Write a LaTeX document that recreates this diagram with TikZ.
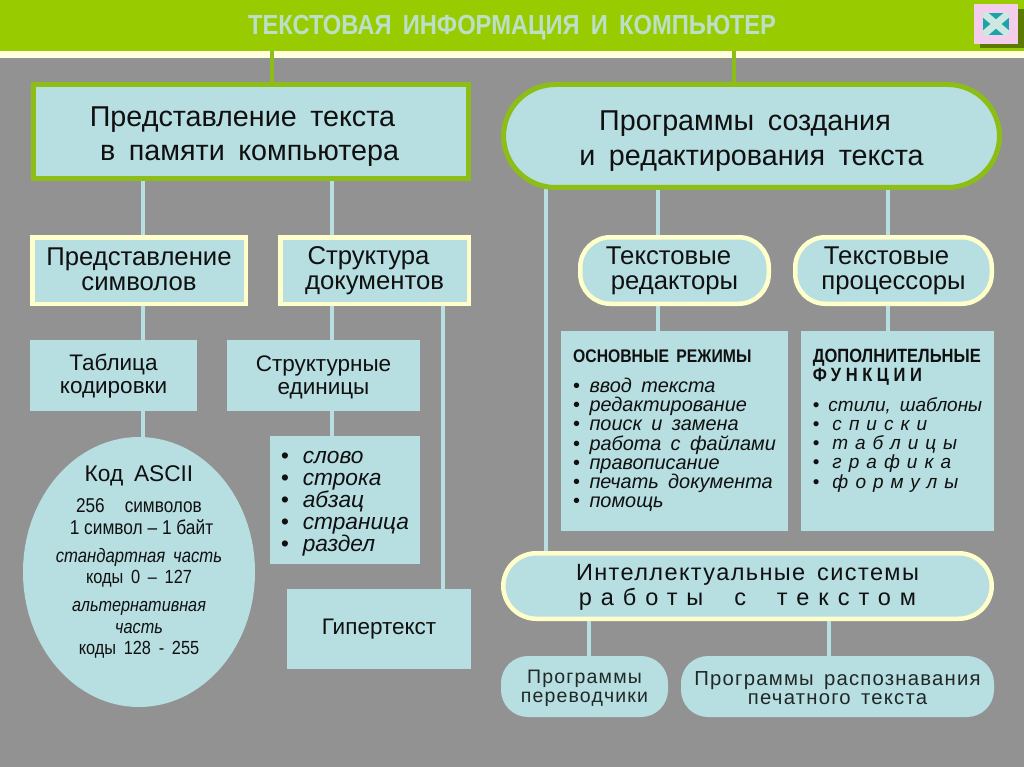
\documentclass[tikz,border=0pt]{standalone}
\usepackage{fontspec}
\setmainfont[WordSpace=1.7]{Liberation Sans}
\newfontfamily\narrowf[FakeStretch=0.86,WordSpace=1.7]{Liberation Sans}
\newfontfamily\narrowt[FakeStretch=0.865,WordSpace=1]{Liberation Sans}
\newfontfamily\narrowit[FakeStretch=0.86,WordSpace=1.7]{Liberation Sans Italic}
\newfontfamily\narrowsp[FakeStretch=0.86,LetterSpace=24]{Liberation Sans}
\newfontfamily\spreadf[LetterSpace=6,WordSpace=1.5]{Liberation Sans}
\newfontfamily\widef[LetterSpace=38,WordSpace=2]{Liberation Sans}
\newfontfamily\itwide[LetterSpace=37,WordSpace=1]{Liberation Sans Italic}
\usetikzlibrary{backgrounds,shapes.geometric}
\definecolor{pale}{HTML}{B7DEE1}
\definecolor{band}{HTML}{99CC00}
\definecolor{edge}{HTML}{8DBE17}
\definecolor{cream}{HTML}{FFFFCC}
\definecolor{slate}{HTML}{929292}
\definecolor{ink}{HTML}{101010}
\definecolor{titletext}{HTML}{BCDFC8}
\definecolor{softink}{HTML}{202828}
\newcommand{\fs}[2]{\fontsize{#1}{#2}\selectfont}
\newcommand{\dnby}[1]{\rule{0pt}{#1pt}}
\newcommand{\upby}[1]{\rule[-#1pt]{0pt}{1pt}}
\tikzset{
  x=1pt,y=-1pt,
  base/.style={fill=pale,text=ink,align=center,inner sep=0pt,outer sep=0pt},
  plainbox/.style={base,rectangle},
  greenbox/.style={base,rectangle,draw=edge,line width=5pt},
  creambox/.style={base,rectangle,draw=cream,line width=4.5pt},
  creampill/.style={base,rectangle,rounded corners=30pt,draw=cream,line width=4.5pt},
  softpill/.style={base,rectangle,rounded corners=27pt,text=softink},
  link/.style={draw=pale,line width=4.5pt},
  toplink/.style={draw=edge,line width=4pt},
  big/.style={font=\fs{28.7}{34}},
  mid/.style={font=\fs{25.7}{25}},
  low/.style={font=\fs{22.5}{23}},
  listfont/.style={font=\fs{19.9}{19.3}},
}
\begin{document}
\begin{tikzpicture}
\useasboundingbox (0,0) rectangle (1024,767);
% header
\node[rectangle,fill=band,inner sep=0pt,minimum width=1024pt,minimum height=51pt,text=titletext,font=\fs{27.6}{30}\bfseries\narrowf] (title) at (512,25.5) {\raisebox{-9.5pt}[0pt][0pt]{ТЕКСТОВАЯ ИНФОРМАЦИЯ И КОМПЬЮТЕР}};
\node[rectangle,fill=cream!60!white,inner sep=0pt,minimum width=1024pt,minimum height=7pt] (strip) at (512,54.5) {};
\node[rectangle,fill=band!60!black,inner sep=0pt,minimum width=44pt,minimum height=39pt] (btnshadow) at (1002,29) {};
\node[rectangle,fill={rgb,255:red,243;green,205;blue,235},inner sep=0pt,minimum width=44pt,minimum height=40pt] (btn) at (996,24) {};
\node[rectangle,fill={rgb,255:red,29;green,164;blue,168},inner sep=0pt,minimum width=26pt,minimum height=22pt] (btnin) at (996,24) {};
\begin{scope}
\clip (btnin.north west) rectangle (btnin.south east);
\draw[draw={rgb,255:red,205;green,232;blue,224},line width=7pt] (btnin.north west) -- (btnin.south east) (btnin.north east) -- (btnin.south west);
\end{scope}
% top level
\node[greenbox,big,minimum width=435pt,minimum height=94pt] (repr) at (251,131.5) {\dnby{29}Представление текста\hspace*{17pt}\\в памяти компьютера\hspace*{3pt}};
\node[greenbox,big,rounded corners=52pt,minimum width=496pt,minimum height=103pt] (prog) at (751.5,136) {\dnby{29}Программы создания\hspace*{13pt}\\[1pt]и редактирования текста};
% second level
\node[creambox,mid,minimum width=213.5pt,minimum height=66.5pt] (sym) at (139,270.5) {Представление\\символов\upby{3}};
\node[creambox,mid,minimum width=188.5pt,minimum height=66.5pt] (doc) at (374.5,270.5) {Структура\hspace*{12pt}\\документов};
\node[creampill,mid,minimum width=188.5pt,minimum height=66.5pt] (edit) at (674.5,270.5) {Текстовые\hspace*{12pt}\\редакторы};
\node[creampill,mid,minimum width=196.5pt,minimum height=66.5pt] (proc) at (893.5,270.5) {Текстовые\hspace*{14pt}\\процессоры};
% third level
\node[plainbox,low,minimum width=167pt,minimum height=71pt] (tab) at (113.5,375.5) {\dnby{18.5}Таблица\\кодировки};
\node[plainbox,low,minimum width=193pt,minimum height=71pt] (unit) at (323.5,375.5) {\dnby{18.5}Структурные\\единицы};
\node[base,ellipse,minimum width=232pt,minimum height=270pt] (ascii) at (139,572) {};
\node[align=center,text=ink,inner sep=0pt,font=\fs{20}{21.5}] (asciitext) at (139,562) {%
  \fs{22.7}{21.5}Код ASCII\\[9.5pt]
  \narrowf\fs{20}{21.5}256\quad символов\\
  \hspace*{5pt}\narrowt\fs{20}{21.5}1 символ – 1 байт\\[6.5pt]
  \narrowit\fs{19.4}{21.5}стандартная часть\\
  \narrowf\fs{19}{21.5}коды 0 – 127\\[6.5pt]
  \narrowit\fs{18.9}{21.5}альтернативная\hspace*{8pt}\\
  \narrowit\fs{18.9}{21.5}часть\\
  \narrowf\fs{19}{21.5}коды 128 - 255};
\node[plainbox,align=left,minimum width=150pt,minimum height=128pt,font=\fs{22.7}{22}\itshape] (words) at (345,500) {\dnby{19}•\hspace{14pt}слово\\•\hspace{14pt}строка\\•\hspace{14pt}абзац\\•\hspace{14pt}страница\\•\hspace{14pt}раздел};
\node[plainbox,font=\fs{22.5}{24},minimum width=184pt,minimum height=80pt] (hyper) at (379,629) {Гипертекст};
% right lists
\node[plainbox,align=left,minimum width=227pt,minimum height=200pt,listfont] (modes) at (674.5,431) {\narrowf\fs{18.3}{19.3}\bfseries ОСНОВНЫЕ РЕЖИМЫ\\[10pt]
• \itshape ввод текста\\
• \itshape редактирование\\
• \itshape поиск и замена\\
• \itshape работа с файлами\\
• \itshape правописание\\
• \itshape печать документа\\
• \itshape помощь};
\node[plainbox,align=left,minimum width=193pt,minimum height=200pt,listfont] (extra) at (897.5,431) {\narrowf\fs{19.2}{20}\bfseries ДОПОЛНИТЕЛЬНЫЕ\\
\narrowsp\fs{19.2}{20}\bfseries ФУНКЦИИ\\[10pt]
\fs{19}{19.2}• \itshape стили, шаблоны\\
\fs{19}{19.2}•\hspace{13pt}\itwide списки\\
\fs{19}{19.2}•\hspace{13pt}\itwide таблицы\\
\fs{19}{19.2}•\hspace{13pt}\itwide графика\\
\fs{19}{19.2}•\hspace{13pt}\itwide формулы\\[5.5pt]\mbox{}};
% bottom
\node[creampill,font=\fs{23.5}{25},rounded corners=33pt,minimum width=488.5pt,minimum height=65.5pt] (intel) at (747.5,586) {{\spreadf\dnby{19}Интеллектуальные системы}\\{\widef работы с текстом}};
\node[softpill,font=\fs{19.5}{19.5}\spreadf,minimum width=167pt,minimum height=61pt] (trans) at (584.5,686.5) {\dnby{17}Программы\\переводчики};
\node[softpill,font=\fs{20.3}{19.5}\spreadf,minimum width=313pt,minimum height=61pt] (ocr) at (837.5,686.5) {\dnby{17.5}Программы распознавания\\печатного текста};
% connectors from the header
\draw[toplink] ([xshift=-240pt]title.south) -- ([xshift=21pt]repr.north);
\draw[toplink] ([xshift=222pt]title.south) -- ([xshift=-17.5pt]prog.north);
% background and connectors
\begin{scope}[on background layer]
\fill[slate] (0,0) rectangle (1024,767);
\draw[link] ([xshift=4pt]sym.north) -- ([xshift=4pt]sym.north |- repr.south);
\draw[link] ([xshift=-42.5pt]doc.north) -- ([xshift=-42.5pt]doc.north |- repr.south);
\draw[link] ([xshift=4pt]sym.south) -- ([xshift=29.5pt]tab.north);
\draw[link] ([xshift=-42.5pt]doc.south) -- ([xshift=8.5pt]unit.north);
\draw[link] ([xshift=68.5pt]doc.south) -- ([xshift=64pt]hyper.north);
\draw[link] ([xshift=29.5pt]tab.south) -- ([xshift=4pt]ascii.north);
\draw[link] ([xshift=8.5pt]unit.south) -- ([xshift=-13pt]words.north);
\draw[link] ([xshift=-205.5pt]prog.south) -- ([xshift=-201.5pt]intel.north);
\draw[link] ([xshift=-16.5pt]edit.north) -- ([xshift=-16.5pt]edit.north |- prog.south);
\draw[link] ([xshift=-5.5pt]proc.north) -- ([xshift=-5.5pt]proc.north |- prog.south);
\draw[link] ([xshift=-16.5pt]edit.south) -- ([xshift=-16.5pt]modes.north);
\draw[link] ([xshift=-5.5pt]proc.south) -- ([xshift=-9.5pt]extra.north);
\draw[link] ([xshift=4.5pt]trans.north) -- ([xshift=4.5pt]trans.north |- intel.south);
\draw[link] ([xshift=-8.5pt]ocr.north) -- ([xshift=-8.5pt]ocr.north |- intel.south);
\end{scope}
\end{tikzpicture}
\end{document}
